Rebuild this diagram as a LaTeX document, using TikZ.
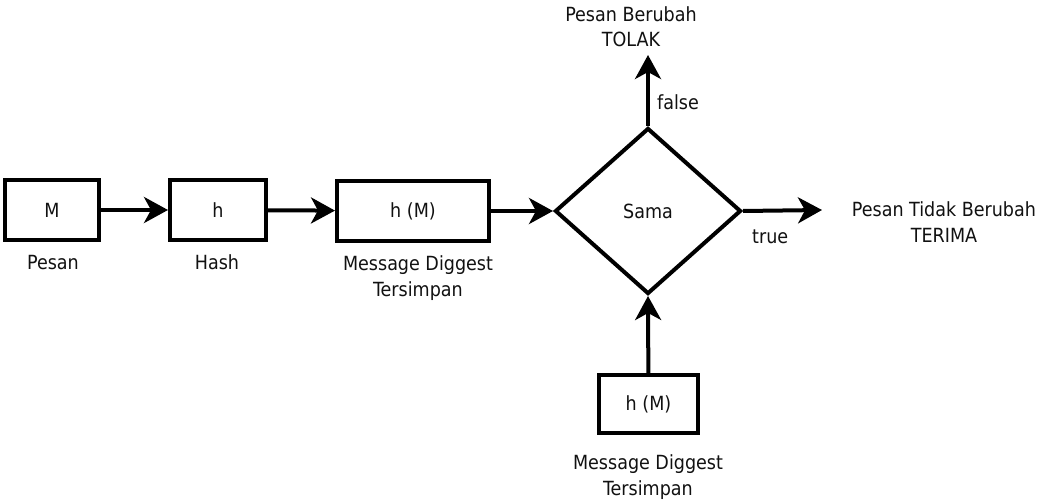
\documentclass[tikz,border=0pt]{standalone}
\usepackage{fontspec}
\setmainfont{DejaVu Sans Condensed}
\usetikzlibrary{shapes.geometric,arrows.meta}
\definecolor{txt}{HTML}{111111}
\tikzset{
  box/.style={draw=black,line width=4pt,rectangle,inner sep=0pt,minimum height=60pt,text=txt},
  cond/.style={draw=black,line width=4pt,diamond,inner sep=0pt,minimum width=186pt,minimum height=166pt,text=txt},
  lbl/.style={text=txt,inner sep=0pt,align=center,anchor=base},
  conn/.style={line width=4pt,-{Stealth[length=24pt,width=26pt,inset=7pt]}},
}
\begin{document}
\begin{tikzpicture}[x=1pt,y=-1pt,font=\fontsize{19.5}{25.5}\selectfont]
\useasboundingbox (0,0) rectangle (1043,500);
\node[box,minimum width=94pt] (m) at (52,210) {M};
\node[box,minimum width=96pt] (h) at (218,210) {h};
\node[box,minimum width=152pt] (hm) at (413,211) {h (M)};
\node[cond] (sama) at (648,211) {Sama};
\node[box,minimum width=99pt,minimum height=58pt] (hm2) at (648.5,404) {h (M)};
\coordinate (tolak) at (648,55);
\coordinate (terima) at (822,210);
\node[lbl] (lpesan) at (53,269) {Pesan};
\node[lbl] (lhash) at (217,269) {Hash};
\node[lbl] (lmd) at (418,296) {Message Diggest\\Tersimpan};
\node[lbl] (lmd2) at (648,495) {Message Diggest\\Tersimpan};
\node[lbl] (ltolak) at (631,47) {Pesan Berubah\\TOLAK};
\node[lbl] (lterima) at (944,242) {Pesan Tidak Berubah\\TERIMA};
\node[lbl,anchor=base west] (lfalse) at (657,110) {false};
\node[lbl,anchor=base west] (ltrue) at (752,243) {true};
\draw[conn] (m) -- (h);
\draw[conn] (h) -- (hm);
\draw[conn] (hm) -- (sama.west);
\draw[conn] (sama.north) -- (tolak);
\draw[conn] (sama.east) -- (terima);
\draw[conn] (hm2) -- (sama.south);
\end{tikzpicture}
\end{document}
